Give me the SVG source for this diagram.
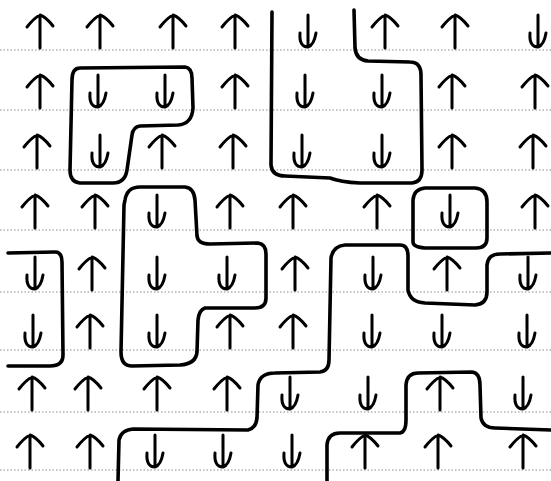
<svg xmlns="http://www.w3.org/2000/svg" xmlns:xlink="http://www.w3.org/1999/xlink" width="551" height="481" viewBox="0 0 551 481">
<style>
.rule{stroke:#8a8a8a;stroke-width:1;stroke-dasharray:1.5 2;fill:none}
.wall{stroke:#000;stroke-width:3.6;fill:none;stroke-linecap:round;stroke-linejoin:round}
.arr{stroke:#000;stroke-width:3;fill:none;stroke-linecap:round;stroke-linejoin:round}
</style>
<defs>
<path id="up" class="arr" d="M0,0 L0,-33 M-13,-21 Q-6,-30 0,-33 Q6,-31 13,-22"/>
<path id="dn" class="arr" d="M0,-33 L0,-2 M-8,-15 Q-9,-1 0,-1 Q6,-3 8,-15"/>
</defs>
<rect width="551" height="481" fill="#fff"/>
<g id="rules">
<line class="rule" x1="0" y1="50" x2="551" y2="50"/>
<line class="rule" x1="0" y1="110" x2="551" y2="110"/>
<line class="rule" x1="0" y1="170" x2="551" y2="170"/>
<line class="rule" x1="0" y1="230" x2="551" y2="230"/>
<line class="rule" x1="0" y1="292" x2="551" y2="292"/>
<line class="rule" x1="0" y1="350" x2="551" y2="350"/>
<line class="rule" x1="0" y1="412" x2="551" y2="412"/>
<line class="rule" x1="0" y1="470" x2="551" y2="470"/>
</g>
<g id="walls">
<path class="wall" d="M272,12 L271,165 Q272,176 285,176 L330,178 Q340,182 360,183 L412,183 Q422,182 422,170 L421,75 Q421,62 410,62 L368,61 Q356,60 355,48 L354,10"/>
<path class="wall" d="M80,68 L185,67 Q192,68 192,78 L193,108 Q192,124 178,125 L140,126 Q133,127 132,135 L127,170 Q125,183 113,183 L80,183 Q70,182 70,170 L72,80 Q72,68 80,68 Z"/>
<path class="wall" d="M125,200 Q127,187 140,187 L185,187 Q194,188 195,200 L197,236 Q198,244 210,244 L258,243 Q266,244 266,254 L266,298 Q266,308 255,308 L205,308 Q199,310 198,320 L197,352 Q196,364 180,365 L132,366 Q121,366 121,352 L124,205 Z"/>
<path class="wall" d="M8,253 L55,252 Q62,252 62,262 L63,355 Q63,366 50,366 L8,366"/>
<path class="wall" d="M413,242 L413,200 Q414,189 425,188 L475,188 Q487,189 487,202 L487,238 Q487,248 476,248 L425,248 Q413,247 413,242 Z"/>
<path class="wall" d="M118,481 L119,440 Q121,430 133,429 L248,430 Q256,428 257,418 L258,385 Q260,373 275,373 L320,372 Q329,371 329,360 L331,258 Q333,246 345,245 L400,245 Q408,245 408,256 L408,290 Q410,302 425,303 L475,305 Q487,304 487,292 L487,265 Q488,254 500,254 L551,253"/>
<path class="wall" d="M327,481 L327,445 Q328,433 340,433 L400,433 Q406,432 406,420 L406,385 Q407,373 418,373 L472,372 Q480,373 480,385 L481,418 Q483,428 495,428 L551,430"/>
</g>
<g id="arrows">
<use xlink:href="#up" x="40" y="48"/><use xlink:href="#up" x="100" y="48"/><use xlink:href="#up" x="173" y="48"/><use xlink:href="#up" x="235" y="48"/><use xlink:href="#dn" x="308" y="48"/><use xlink:href="#up" x="385" y="48"/><use xlink:href="#up" x="455" y="48"/><use xlink:href="#dn" x="538" y="48"/>
<use xlink:href="#up" x="40" y="108"/><use xlink:href="#dn" x="98" y="108"/><use xlink:href="#dn" x="165" y="108"/><use xlink:href="#up" x="235" y="108"/><use xlink:href="#dn" x="305" y="108"/><use xlink:href="#dn" x="382" y="108"/><use xlink:href="#up" x="452" y="108"/><use xlink:href="#up" x="535" y="108"/>
<use xlink:href="#up" x="37" y="168"/><use xlink:href="#dn" x="100" y="168"/><use xlink:href="#up" x="162" y="168"/><use xlink:href="#up" x="233" y="168"/><use xlink:href="#dn" x="302" y="168"/><use xlink:href="#dn" x="382" y="168"/><use xlink:href="#up" x="452" y="168"/><use xlink:href="#up" x="533" y="168"/>
<use xlink:href="#up" x="35" y="228"/><use xlink:href="#up" x="95" y="228"/><use xlink:href="#dn" x="157" y="228"/><use xlink:href="#up" x="230" y="228"/><use xlink:href="#up" x="293" y="228"/><use xlink:href="#up" x="377" y="228"/><use xlink:href="#dn" x="450" y="228"/><use xlink:href="#up" x="535" y="228"/>
<use xlink:href="#dn" x="35" y="290"/><use xlink:href="#up" x="92" y="290"/><use xlink:href="#dn" x="157" y="290"/><use xlink:href="#dn" x="227" y="290"/><use xlink:href="#up" x="295" y="290"/><use xlink:href="#dn" x="373" y="290"/><use xlink:href="#up" x="447" y="290"/><use xlink:href="#dn" x="528" y="290"/>
<use xlink:href="#dn" x="33" y="348"/><use xlink:href="#up" x="90" y="348"/><use xlink:href="#dn" x="157" y="348"/><use xlink:href="#up" x="230" y="348"/><use xlink:href="#up" x="293" y="348"/><use xlink:href="#dn" x="372" y="348"/><use xlink:href="#dn" x="442" y="348"/><use xlink:href="#dn" x="527" y="348"/>
<use xlink:href="#up" x="32" y="410"/><use xlink:href="#up" x="88" y="410"/><use xlink:href="#up" x="157" y="410"/><use xlink:href="#up" x="227" y="410"/><use xlink:href="#dn" x="290" y="410"/><use xlink:href="#dn" x="368" y="410"/><use xlink:href="#up" x="440" y="410"/><use xlink:href="#dn" x="523" y="410"/>
<use xlink:href="#up" x="30" y="468"/><use xlink:href="#up" x="90" y="468"/><use xlink:href="#dn" x="155" y="468"/><use xlink:href="#dn" x="223" y="468"/><use xlink:href="#dn" x="292" y="468"/><use xlink:href="#up" x="365" y="468"/><use xlink:href="#up" x="438" y="468"/><use xlink:href="#up" x="523" y="468"/>
</g>
</svg>
